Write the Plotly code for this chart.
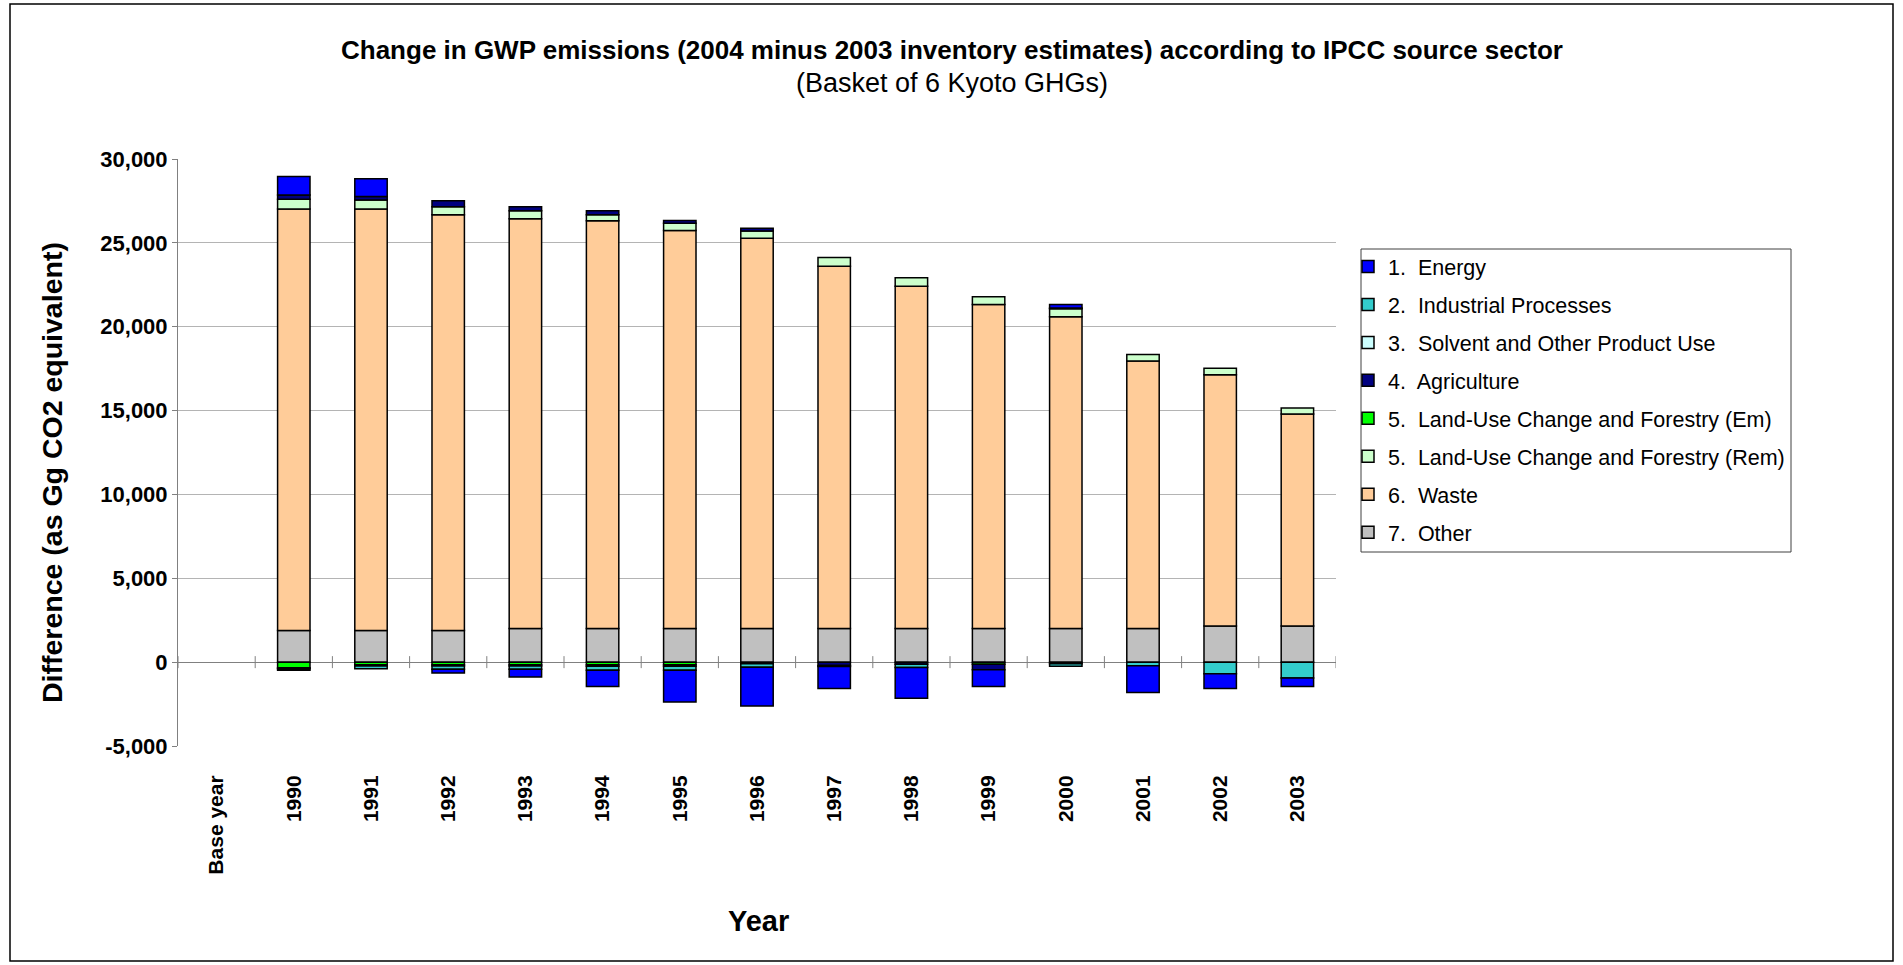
import plotly.graph_objects as go

# ---------------- data ----------------
years = ["Base year", "1990", "1991", "1992", "1993", "1994", "1995", "1996",
         "1997", "1998", "1999", "2000", "2001", "2002", "2003"]

energy      = [None, 1090, 1050, -210, -450, -960, -1890, -2320, -1310, -1840, -1000, 210, -1590, -870, -500]
industrial  = [None, -100, -170, -200, -200, -240, -240, -200, -60, -200, None, -150, -220, -695, -950]
solvent     = [None, -60, -80, -80, -80, -100, -100, -100, None, None, None, -100, None, None, None]
agriculture = [None, 260, 220, 360, 230, 240, 160, 160, -200, -120, -330, 40, None, None, None]
lucf_em     = [None, -330, -150, -150, -150, -150, -150, None, None, None, -120, None, None, None, None]
lucf_rem    = [None, 580, 530, 470, 480, 360, 430, 430, 520, 500, 460, 470, 390, 380, 370]
waste       = [None, 25140, 25140, 24800, 24430, 24310, 23730, 23270, 21600, 20410, 19310, 18590, 15950, 14990, 12640]
other       = [None, 1880, 1880, 1880, 2010, 2010, 2010, 2010, 2010, 2010, 2010, 2010, 2010, 2150, 2150]

y_tick_values = [-5000, 0, 5000, 10000, 15000, 20000, 25000, 30000]
y_tick_labels = ["-5,000", "0", "5,000", "10,000", "15,000", "20,000", "25,000", "30,000"]

title_text = "Change in GWP emissions (2004 minus 2003 inventory estimates) according to IPCC source sector"
subtitle_text = "(Basket of 6 Kyoto GHGs)"
y_title = "Difference (as Gg CO2 equivalent)"
x_title = "Year"

# series in stacking order (bottom first); legend lists them top-down from Energy
series = [
    ("7.\u00a0 Other", other, "#C0C0C0"),
    ("6.\u00a0 Waste", waste, "#FFCC99"),
    ("5.\u00a0 Land-Use Change and Forestry (Rem)", lucf_rem, "#CCFFCC"),
    ("5.\u00a0 Land-Use Change and Forestry (Em)", lucf_em, "#00FF00"),
    ("4.\u00a0 Agriculture", agriculture, "#000080"),
    ("3.\u00a0 Solvent and Other Product Use", solvent, "#CCFFFF"),
    ("2.\u00a0 Industrial Processes", industrial, "#33CCCC"),
    ("1.\u00a0 Energy", energy, "#0000FF"),
]

FONT = "Liberation Sans, Arial, sans-serif"

fig = go.Figure()
n = len(series)
for i, (name, vals, col) in enumerate(series):
    fig.add_trace(go.Bar(
        x=years, y=vals, name=name, legendrank=n - i, legendgroup=f"g{n - i}",
        marker=dict(color=col, line=dict(color="black", width=1.5)),
    ))

# figure geometry (pixels)
W, H = 1903, 965
L, R, T, B = 178, 567, 159, 219
pw, ph = W - L - R, H - T - B

def px_x(x):
    return (x - L) / pw

def px_y(y):
    return (H - B - y) / ph

shapes = []
# cross tick marks on the zero line at category boundaries
for i in range(len(years) + 1):
    shapes.append(dict(type="line", xref="x", yref="y", ysizemode="pixel", yanchor=0,
                       x0=i - 0.5, x1=i - 0.5, y0=-6, y1=6,
                       line=dict(color="#808080", width=1)))
# outer chart frame
shapes.append(dict(type="rect", xref="paper", yref="paper",
                   x0=px_x(10), x1=px_x(1893), y0=px_y(961), y1=px_y(4),
                   line=dict(color="black", width=1.5), fillcolor="rgba(0,0,0,0)", layer="below"))
# legend box
shapes.append(dict(type="rect", xref="paper", yref="paper",
                   x0=px_x(1361), x1=px_x(1791), y0=px_y(552), y1=px_y(249),
                   line=dict(color="#404040", width=1), fillcolor="white", layer="below"))

annotations = [
    dict(text="<b>" + title_text + "</b>", xref="paper", yref="paper",
         x=px_x(952), y=px_y(50), showarrow=False, xanchor="center", yanchor="middle",
         font=dict(family=FONT, size=26, color="black")),
    dict(text=subtitle_text, xref="paper", yref="paper",
         x=px_x(952), y=px_y(83), showarrow=False, xanchor="center", yanchor="middle",
         font=dict(family=FONT, size=27, color="black")),
    dict(text="<b>" + y_title + "</b>", xref="paper", yref="paper", textangle=-90,
         x=px_x(52), y=px_y(473), showarrow=False, xanchor="center", yanchor="middle",
         font=dict(family=FONT, size=28.5, color="black")),
    dict(text="<b>" + x_title + "</b>", xref="paper", yref="paper",
         x=px_x(758), y=px_y(921), showarrow=False, xanchor="center", yanchor="middle",
         font=dict(family=FONT, size=29, color="black")),
]

fig.update_layout(
    width=W, height=H,
    margin=dict(l=L, r=R, t=T, b=B, pad=0),
    paper_bgcolor="white", plot_bgcolor="white",
    barmode="relative", bargap=0.58,
    font=dict(family=FONT, color="black"),
    showlegend=True,
    legend=dict(x=px_x(1348), y=px_y(246), xanchor="left", yanchor="top",
                traceorder="grouped", tracegroupgap=7, itemwidth=30,
                borderwidth=0, bgcolor="rgba(0,0,0,0)",
                font=dict(family=FONT, size=21.5, color="black")),
    shapes=shapes,
    annotations=annotations,
    xaxis=dict(type="category", categoryorder="array", categoryarray=years,
               range=[-0.5, len(years) - 0.5],
               tickangle=-90, ticks="outside", ticklen=20, tickcolor="rgba(0,0,0,0)",
               showline=False, showgrid=False, zeroline=False,
               tickfont=dict(family=FONT, size=21, color="black", weight="bold")),
    yaxis=dict(range=[-5000, 30000], tickvals=y_tick_values, ticktext=y_tick_labels,
               showline=True, linecolor="#808080", linewidth=1,
               ticks="outside", ticklen=5, tickcolor="#808080",
               showgrid=True, gridcolor="#B4B4B4", gridwidth=1,
               zeroline=True, zerolinecolor="#808080", zerolinewidth=1,
               tickfont=dict(family=FONT, size=22, color="black", weight="bold")),
)

fig.write_html("out.html", config={"displayModeBar": False},
               post_script="document.body.style.margin='0';document.body.style.overflow='hidden';")
